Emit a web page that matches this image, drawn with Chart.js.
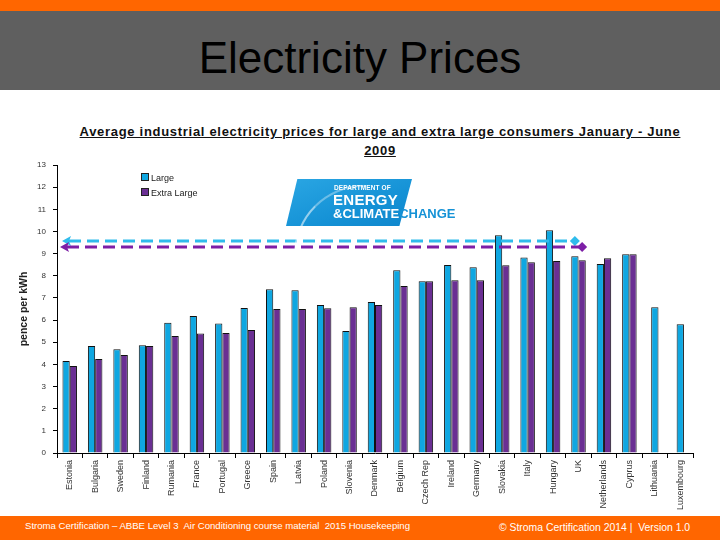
<!DOCTYPE html>
<html>
<head>
<meta charset="utf-8">
<script src="https://cdn.jsdelivr.net/npm/chart.js@4.4.1/dist/chart.umd.min.js"></script>
<style>
  html, body { margin: 0; padding: 0; }
  body { width: 720px; height: 540px; position: relative; overflow: hidden; background: #fff; font-family: 'Liberation Sans', Arial, sans-serif; }
  .topbar { position: absolute; left: 0; top: 0; width: 720px; height: 11px; background: #ff6600; }
  .band { position: absolute; left: 0; top: 11px; width: 720px; height: 79px; background: #5f5f5f; }
  .band h1 { margin: 0; position: absolute; left: 0; width: 720px; top: 22px; text-align: center; font-weight: normal; font-size: 44px; line-height: 50px; color: #000; }
  .footer { position: absolute; left: 0; top: 516px; width: 720px; height: 24px; background: #ff6600; color: #fff; font-size: 9.6px; }
  .footer .l { position: absolute; left: 25px; top: 4px; }
  .footer .r { position: absolute; left: 499px; top: 6px; font-size: 10.4px; }
  .ctitle { position: absolute; left: 50px; width: 660px; top: 122px; text-align: center; font-weight: bold; font-size: 13px; line-height: 19px; letter-spacing: 0.7px; color: #111; text-decoration: underline; }
  #wrap { position: absolute; left: 0; top: 150px; width: 720px; height: 366px; }
  .legend { position: absolute; left: 141px; top: 171px; font-size: 9px; color: #222; line-height: 15px; }
  .legend span.sw { display: inline-block; width: 6px; height: 6px; border: 1px solid #222; margin-right: 2px; vertical-align: 0px; }
  .logo { position: absolute; left: 286px; top: 179px; width: 180px; height: 47px; }
  .logo .shape { position: absolute; left: 0; top: 0; width: 126px; height: 47px; background: linear-gradient(160deg, #2aa6e3 0%, #1592d6 60%, #0f86cc 100%); clip-path: polygon(9% 0, 100% 0, 90% 100%, 0 100%); }
  .logo .arc { position: absolute; left: 8px; top: 6px; width: 70px; height: 90px; border-left: 2px solid rgba(255,255,255,0.55); border-top: 2px solid rgba(255,255,255,0.35); border-radius: 70px 0 0 0; }
  .logo .t1 { position: absolute; left: 48px; top: 5px; font-size: 6.5px; font-weight: bold; color: #fff; letter-spacing: 0.1px; }
  .logo .t2 { position: absolute; left: 47px; top: 12px; font-size: 15px; font-weight: bold; color: #fff; letter-spacing: 0.3px; }
  .logo .t3 { position: absolute; left: 47px; top: 27px; font-size: 13px; font-weight: bold; color: #fff; }
  .logo .t3 b { color: #1592d6; }
</style>
</head>
<body>
<div class="topbar"></div>
<div class="band"><h1>Electricity Prices</h1></div>
<div class="ctitle">Average industrial electricity prices for large and extra large consumers January - June<br>2009</div>
<div id="wrap"><canvas id="chart" width="720" height="366"></canvas></div>
<div class="logo">
  <div class="shape"></div>
  <div class="arc"></div>
  <div class="t1">DEPARTMENT OF</div>
  <div class="t2">ENERGY</div>
  <div class="t3">&amp;CLIMATE<b>CHANGE</b></div>
</div>
<div class="legend">
  <div><span class="sw" style="background:#0fa7e1"></span>Large</div>
  <div><span class="sw" style="background:#6a2f93"></span>Extra Large</div>
</div>
<div class="footer">
  <div class="l">Stroma Certification – ABBE Level 3&nbsp; Air Conditioning course material&nbsp; 2015 Housekeeping</div>
  <div class="r">© Stroma Certification 2014 |&nbsp; Version 1.0</div>
</div>
<script>
// Electricity prices slide — industrial prices, Jan–Jun 2009

// ── Data ──────────────────────────────────────────────────────────────────────

const countries = ['Estonia', 'Bulgaria', 'Sweden', 'Finland', 'Rumania', 'France', 'Portugal', 'Greece',
  'Spain', 'Latvia', 'Poland', 'Slovenia', 'Denmark', 'Belgium', 'Czech Rep', 'Ireland', 'Germany',
  'Slovakia', 'Italy', 'Hungary', 'UK', 'Netherlands', 'Cyprus', 'Lithuania', 'Luxembourg'];

const largePrices = [4.15, 4.83, 4.68, 4.86, 5.88, 6.18, 5.85, 6.55, 7.39, 7.35, 6.68, 5.51, 6.82,
  8.25, 7.75, 8.49, 8.38, 9.83, 8.83, 10.05, 8.88, 8.53, 8.97, 6.58, 5.81];

const extraLargePrices = [3.93, 4.24, 4.42, 4.83, 5.28, 5.39, 5.42, 5.55, 6.50, 6.50, 6.53, 6.58, 6.68,
  7.54, 7.75, 7.80, 7.80, 8.47, 8.61, 8.67, 8.70, 8.79, 8.97, null, null];

const yTicks = [0, 1, 2, 3, 4, 5, 6, 7, 8, 9, 10, 11, 12, 13];

// UK reference levels (dashed arrows)
const ukLargeLevel = 9.57;
const ukExtraLargeLevel = 9.30;
const ukIndex = countries.indexOf('UK');

// ── Reference line plugin ─────────────────────────────────────────────────────

function drawRefLine(ctx, x0, x1, y, color) {
  ctx.save();
  ctx.strokeStyle = color;
  ctx.fillStyle = color;
  ctx.lineWidth = 3;
  ctx.setLineDash([12, 6]);
  ctx.beginPath();
  ctx.moveTo(x0 + 7, y);
  ctx.lineTo(x1, y);
  ctx.stroke();
  ctx.setLineDash([]);

  // arrow head at left
  ctx.beginPath();
  ctx.moveTo(x0, y);
  ctx.lineTo(x0 + 9, y - 5);
  ctx.lineTo(x0 + 7, y);
  ctx.lineTo(x0 + 9, y + 5);
  ctx.closePath();
  ctx.fill();

  // diamond at right
  ctx.beginPath();
  ctx.moveTo(x1, y - 5);
  ctx.lineTo(x1 + 5, y);
  ctx.lineTo(x1, y + 5);
  ctx.lineTo(x1 - 5, y);
  ctx.closePath();
  ctx.fill();
  ctx.restore();
}

const ukLines = {
  id: 'ukLines',
  afterDatasetsDraw(chart) {
    const { ctx, chartArea, scales } = chart;
    const largeBar = chart.getDatasetMeta(0).data[ukIndex];
    const xlBar = chart.getDatasetMeta(1).data[ukIndex];
    drawRefLine(ctx, chartArea.left + 5, largeBar.x, scales.y.getPixelForValue(ukLargeLevel), '#2fbcec');
    drawRefLine(ctx, chartArea.left + 3, xlBar.x, scales.y.getPixelForValue(ukExtraLargeLevel), '#7d1fa6');
  },
};

// ── Chart ─────────────────────────────────────────────────────────────────────

new Chart(document.getElementById('chart').getContext('2d'), {
  type: 'bar',
  data: {
    labels: countries,
    datasets: [
      {
        label: 'Large',
        data: largePrices,
        backgroundColor: '#0fa7e1',
        borderColor: '#111',
        borderWidth: 1,
        categoryPercentage: 0.57,
        barPercentage: 1.0,
        maxBarThickness: 7.3,
      },
      {
        label: 'Extra Large',
        data: extraLargePrices,
        backgroundColor: '#6a2f93',
        borderColor: '#111',
        borderWidth: 1,
        categoryPercentage: 0.57,
        barPercentage: 1.0,
        maxBarThickness: 7.3,
      },
    ],
  },
  options: {
    responsive: false,
    animation: false,
    skipNull: true,
    layout: { padding: { left: 18, right: 27, top: 15, bottom: 0 } },
    plugins: {
      legend: { display: false },
      title: { display: false },
      tooltip: { enabled: false },
    },
    scales: {
      x: {
        border: { color: '#000', width: 1 },
        grid: { offset: true, drawOnChartArea: false, tickLength: 5, color: '#000' },
        ticks: {
          autoSkip: false,
          maxRotation: 90,
          minRotation: 90,
          padding: 2,
          color: '#333',
          font: { family: 'Liberation Sans, Arial, sans-serif', size: 9 },
        },
        afterFit: (scale) => { scale.height = 63; },
      },
      y: {
        min: 0,
        max: 13,
        afterBuildTicks: (scale) => { scale.ticks = yTicks.map((v) => ({ value: v })); },
        border: { color: '#000', width: 1 },
        grid: { drawOnChartArea: false, tickLength: 4, color: '#000' },
        ticks: {
          padding: 7,
          color: '#333',
          font: { family: 'Liberation Sans, Arial, sans-serif', size: 8 },
        },
        title: {
          display: true,
          text: 'pence per kWh',
          color: '#222',
          padding: 0,
          font: { family: 'Liberation Sans, Arial, sans-serif', size: 10.5, weight: 'bold' },
        },
        afterFit: (scale) => { scale.width = 39; },
      },
    },
  },
  plugins: [ukLines],
});
</script>
</body>
</html>
